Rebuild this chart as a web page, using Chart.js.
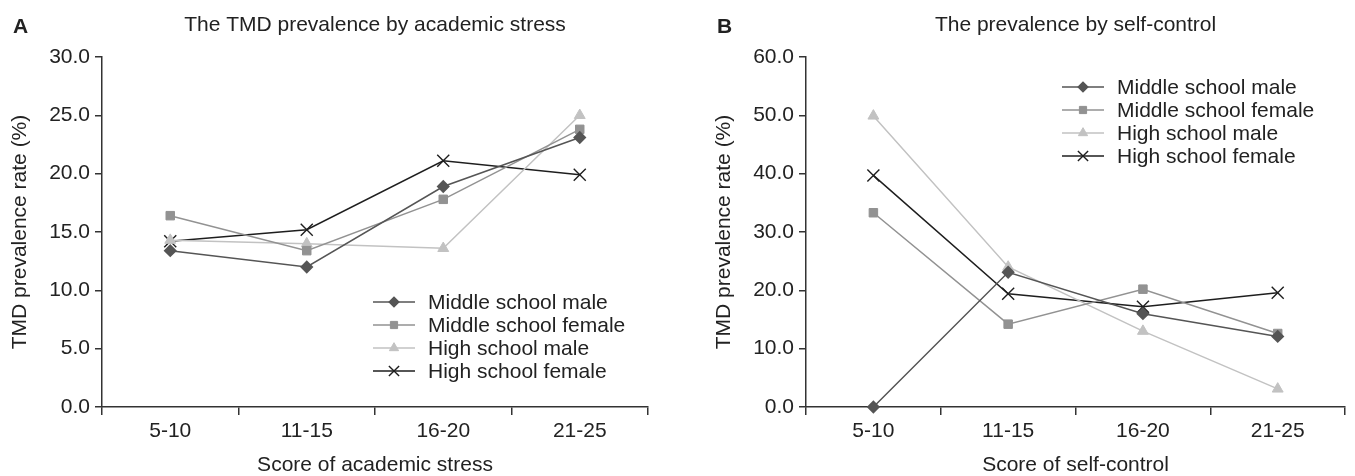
<!DOCTYPE html>
<html lang="en">
<head>
    <meta charset="UTF-8">
    <title>TMD prevalence</title>
    <script src="https://cdn.jsdelivr.net/npm/chart.js"></script>
    <style>
        body { margin: 0; background: #fff; }
        canvas { position: absolute; top: 0; }
    </style>
</head>
<body>
    <canvas id="chartA" width="680" height="476" style="left:0"></canvas>
    <canvas id="chartB" width="675" height="476" style="left:680px"></canvas>

    <script>
        const categories = ['5-10', '11-15', '16-20', '21-25'];
        const seriesNames = ['Middle school male', 'Middle school female', 'High school male', 'High school female'];

        // Panel A: by academic stress
        const stressMiddleMale = [13.4, 12.0, 18.9, 23.1];
        const stressMiddleFemale = [16.4, 13.4, 17.8, 23.8];
        const stressHighMale = [14.3, 14.0, 13.6, 25.0];
        const stressHighFemale = [14.2, 15.2, 21.1, 19.9];
        const stressTicks = [0, 5, 10, 15, 20, 25, 30];

        // Panel B: by self-control
        const controlMiddleMale = [0.0, 23.1, 16.0, 12.1];
        const controlMiddleFemale = [33.3, 14.2, 20.2, 12.6];
        const controlHighMale = [49.9, 24.0, 13.0, 3.1];
        const controlHighFemale = [39.7, 19.4, 17.2, 19.6];
        const controlTicks = [0, 10, 20, 30, 40, 50, 60];

        const FONT = "'Liberation Sans', Arial, Helvetica, sans-serif";
        const TEXT = '#222';
        const AXIS = '#333';

        Chart.defaults.font.family = FONT;
        Chart.defaults.font.size = 21;
        Chart.defaults.color = TEXT;

        const seriesStyles = [
            { color: '#555555', pointStyle: 'rectRot', radius: 5.6, pointWidth: 1.5 },
            { color: '#929292', pointStyle: 'rect', radius: 6, pointWidth: 1 },
            { color: '#c2c2c2', pointStyle: 'triangle', radius: 6.3, pointWidth: 1 },
            { color: '#1e1e1e', pointStyle: 'crossRot', radius: 8.5, pointWidth: 1.4 },
        ];

        function makeDatasets(seriesValues) {
            return seriesValues.map((values, i) => ({
                label: seriesNames[i],
                data: values,
                borderColor: seriesStyles[i].color,
                backgroundColor: seriesStyles[i].color,
                pointBackgroundColor: seriesStyles[i].color,
                pointBorderColor: seriesStyles[i].color,
                pointStyle: seriesStyles[i].pointStyle,
                pointRadius: seriesStyles[i].radius,
                pointBorderWidth: seriesStyles[i].pointWidth,
                borderWidth: 1.5,
                tension: 0,
                clip: false,
            }));
        }

        // panel letter, title and the inset legend
        const panelText = {
            id: 'panelText',
            afterDraw(chart, args, opts) {
                const { ctx, chartArea } = chart;
                ctx.save();
                ctx.fillStyle = TEXT;
                ctx.textBaseline = 'middle';

                ctx.font = 'bold 21px ' + FONT;
                ctx.textAlign = 'left';
                ctx.fillText(opts.letter, opts.letterX, 27);

                ctx.font = '21px ' + FONT;
                ctx.textAlign = 'center';
                ctx.fillText(opts.title, (chartArea.left + chartArea.right) / 2, 25);

                ctx.textAlign = 'left';
                chart.data.datasets.forEach((ds, i) => {
                    const y = opts.legendY + i * 23;
                    const x = opts.legendX;
                    ctx.strokeStyle = ds.borderColor;
                    ctx.fillStyle = ds.backgroundColor;
                    ctx.lineWidth = ds.borderWidth;
                    ctx.beginPath();
                    ctx.moveTo(x, y);
                    ctx.lineTo(x + 42, y);
                    ctx.stroke();
                    ctx.lineWidth = ds.pointBorderWidth;
                    Chart.helpers.drawPoint(ctx, {
                        pointStyle: ds.pointStyle,
                        radius: ds.pointRadius * 0.85,
                        rotation: 0,
                        borderWidth: ds.pointBorderWidth,
                    }, x + 21, y);
                    ctx.fillStyle = TEXT;
                    ctx.fillText(ds.label, x + 55, y + 1);
                });
                ctx.restore();
            }
        };

        function makeChart(id, cfg) {
            return new Chart(document.getElementById(id), {
                type: 'line',
                data: { labels: categories, datasets: makeDatasets(cfg.series) },
                options: {
                    responsive: false,
                    animation: false,
                    events: [],
                    layout: { padding: { top: 57, right: cfg.padRight, left: 0, bottom: 0 } },
                    plugins: {
                        legend: { display: false },
                        tooltip: { enabled: false },
                        panelText: {
                            letter: cfg.letter,
                            letterX: cfg.letterX,
                            title: cfg.title,
                            legendX: cfg.legendX,
                            legendY: cfg.legendY,
                        },
                    },
                    scales: {
                        x: {
                            offset: true,
                            grid: { offset: true, drawOnChartArea: false, tickLength: 8, color: AXIS, lineWidth: 1.5 },
                            border: { color: AXIS, width: 1.5 },
                            ticks: { padding: 4, maxRotation: 0, color: TEXT },
                            title: {
                                display: true,
                                text: cfg.xTitle,
                                font: { size: 21, lineHeight: 1 },
                                padding: { top: 0, bottom: 0 },
                                color: TEXT,
                            },
                            afterFit(scale) { scale.height = 69; },
                        },
                        y: {
                            min: cfg.yTicks[0],
                            max: cfg.yTicks[cfg.yTicks.length - 1],
                            afterBuildTicks(scale) {
                                scale.ticks = cfg.yTicks.map(v => ({ value: v }));
                            },
                            grid: { drawOnChartArea: false, tickLength: 7, color: AXIS, lineWidth: 1.5 },
                            border: { color: AXIS, width: 1.5 },
                            ticks: { padding: 5, color: TEXT, callback: v => Number(v).toFixed(1) },
                            title: {
                                display: true,
                                text: 'TMD prevalence rate (%)',
                                font: { size: 21 },
                                padding: { top: cfg.yTitlePad, bottom: 0 },
                                color: TEXT,
                            },
                            afterFit(scale) { scale.width = cfg.yWidth; },
                        },
                    },
                },
                plugins: [panelText],
            });
        }

        makeChart('chartA', {
            series: [stressMiddleMale, stressMiddleFemale, stressHighMale, stressHighFemale],
            yTicks: stressTicks,
            letter: 'A', letterX: 13,
            title: 'The TMD prevalence by academic stress',
            xTitle: 'Score of academic stress',
            legendX: 373, legendY: 302,
            padRight: 32, yWidth: 102, yTitlePad: 8,
        });

        makeChart('chartB', {
            series: [controlMiddleMale, controlMiddleFemale, controlHighMale, controlHighFemale],
            yTicks: controlTicks,
            letter: 'B', letterX: 37,
            title: 'The prevalence by self-control',
            xTitle: 'Score of self-control',
            legendX: 382, legendY: 87,
            padRight: 5, yWidth: 126, yTitlePad: 32,
        });
    </script>
</body>
</html>
